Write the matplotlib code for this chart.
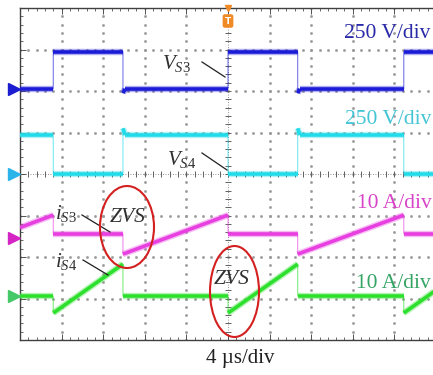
import numpy as np
import matplotlib.pyplot as plt
from matplotlib.patches import Ellipse
from matplotlib.collections import LineCollection

plt.rcParams['font.family'] = ['Liberation Serif', 'DejaVu Serif']
plt.rcParams['mathtext.fontset'] = 'custom'
plt.rcParams['mathtext.it'] = 'Liberation Serif:italic'
plt.rcParams['mathtext.rm'] = 'Liberation Serif'

# scope settings
T_DIV = 4.0            # us/div
V_DIV = 250.0          # V/div
I_DIV = 10.0           # A/div
N_XDIV, N_YDIV = 10, 8

# channel ground levels (div from bottom)
ref_vs3, ref_vs4, ref_is3, ref_is4 = 6.05, 4.0, 2.46, 1.06

# waveforms: time (us) and value breakpoints
vs3_t = [0, 3.2, 3.2, 9.9, 9.9, 10.1, 20.0, 20.0, 26.7, 26.7, 26.9, 36.9, 36.9, 40]
vs3_v = [0, 0, 225, 225, -25, 0, 0, 225, 225, -25, 0, 0, 225, 225]

vs4_t = [0, 3.2, 3.2, 9.9, 9.9, 10.1, 20.0, 20.0, 26.7, 26.7, 26.9, 36.9, 36.9, 40]
vs4_v = [235, 235, 0, 0, 275, 235, 235, 0, 0, 275, 235, 235, 0, 0]

is3_t = [0, 3.2, 3.2, 9.9, 9.9, 20.0, 20.0, 26.7, 26.7, 36.9, 36.9, 40]
is3_i = [2.5, 5.5, 1.0, 1.0, -3.9, 5.5, 1.0, 1.0, -3.9, 5.5, 1.0, 1.0]

is4_t = [0, 3.2, 3.2, 9.9, 9.9, 20.0, 20.0, 26.7, 26.7, 36.9, 36.9, 40]
is4_i = [0, 0, -4.1, 7.7, 0, 0, -4.1, 7.7, 0, 0, -4.1, 1.4]

scale_labels = ['250 V/div', '250 V/div', '10 A/div', '10 A/div']
time_label = '4 \u00b5s/div'

W, H = 433, 375
fig = plt.figure(figsize=(W / 100, H / 100), dpi=100)
ax = fig.add_axes([20 / W, 35 / H, 416 / W, 332 / H])
ax.set_xlim(0, N_XDIV * T_DIV)
ax.set_ylim(0, N_YDIV)


def X(px):
    return (px - 20) / 41.6 * T_DIV


def Y(py):
    return (340 - py) / 41.5


# graticule
grid_c = '#9a9a9a'
ys = np.arange(0, N_YDIV + 0.01, 0.2)
xs = np.arange(0, N_XDIV * T_DIV + 0.01, 0.2 * T_DIV)
for k in range(1, N_XDIV):
    if k == 5:
        continue
    ax.plot(np.full_like(ys, k * T_DIV), ys, ls='none', marker='s', ms=0.9,
            color=grid_c, zorder=1)
for k in range(1, N_YDIV):
    if k == 4:
        continue
    ax.plot(xs, np.full_like(xs, k), ls='none', marker='s', ms=0.9,
            color=grid_c, zorder=1)

# centre axes with minor ticks
ax.axvline(20, color='#707070', lw=0.6, ls=(0, (1, 2)), zorder=1)
ax.axhline(4, color='#707070', lw=0.6, ls=(0, (1, 2)), zorder=1)
ax.plot(xs, np.full_like(xs, 4), ls='none', marker='|', ms=4, mew=0.7,
        color='#606060', zorder=1)
ax.plot(np.full_like(ys, 20), ys, ls='none', marker='_', ms=4, mew=0.7,
        color='#606060', zorder=1)

# frame
for s in ['left', 'top', 'bottom']:
    ax.spines[s].set_color('#404040')
    ax.spines[s].set_linewidth(1.0)
ax.spines['right'].set_visible(False)
ax.set_xticks(np.arange(0, 41, T_DIV))
ax.set_yticks(np.arange(0, N_YDIV + 1))
ax.set_xticks(xs, minor=True)
ax.set_yticks(ys, minor=True)
ax.tick_params(which='both', direction='in', top=True, bottom=True, left=True,
               right=False, labelbottom=False, labelleft=False, color='#505050')
ax.tick_params(which='major', length=4, width=0.7)
ax.tick_params(which='minor', length=2.5, width=0.6)


def trace(t, v, ref, scale, color):
    t = np.asarray(t, float)
    y = ref + np.asarray(v, float) / scale
    # thin edges everywhere, thick band on the non-vertical parts
    ax.plot(t, y, color=color, lw=0.8, alpha=0.6, zorder=3)
    segs = [[(t[i], y[i]), (t[i + 1], y[i + 1])]
            for i in range(len(t) - 1) if t[i + 1] > t[i]]
    ax.add_collection(LineCollection(segs, colors=color, linewidths=4.6,
                                     alpha=0.35, capstyle='butt', zorder=3))
    ax.add_collection(LineCollection(segs, colors=color, linewidths=2.6,
                                     capstyle='butt', zorder=4))


trace(vs3_t, vs3_v, ref_vs3, V_DIV, '#1c1cd8')
trace(vs4_t, vs4_v, ref_vs4, V_DIV, '#22dbe8')
trace(is3_t, is3_i, ref_is3, I_DIV, '#e840e0')
trace(is4_t, is4_i, ref_is4, I_DIV, '#2ee02e')

# ground markers
for ref, c in [(ref_vs3, '#1c1cd0'), (ref_vs4, '#2ab4ea'),
               (ref_is3, '#d424c4'), (ref_is4, '#44c868')]:
    ax.plot(-0.55, ref, marker='>', ms=8.5, color=c, clip_on=False, zorder=5)

# trigger marker
ax.plot(20, 8, marker='v', ms=5, color='#f08a24', clip_on=False, zorder=6)
ax.text(20, Y(21), 'T', color='white', fontsize=6.5, fontweight='bold',
        family='DejaVu Sans', ha='center', va='center', zorder=6,
        bbox=dict(boxstyle='round,pad=0.25', fc='#f08a24', ec='none'))

# scale labels
lab_fs = 15.5
ax.text(X(344), Y(34), scale_labels[0], color='#2a2aa8', fontsize=lab_fs,
        ha='left', va='center')
ax.text(X(345), Y(120), scale_labels[1], color='#44c4d4', fontsize=lab_fs,
        ha='left', va='center')
ax.text(X(357), Y(203), scale_labels[2], color='#d844c8', fontsize=lab_fs,
        ha='left', va='center')
ax.text(X(356), Y(283), scale_labels[3], color='#34a464', fontsize=lab_fs,
        ha='left', va='center')

# signal names with leader lines
names = [(r'$V_{S3}$', 162, 63, (202, 62), (225, 77)),
         (r'$V_{S4}$', 167, 160, (202, 153), (227, 170)),
         (r'$i_{S3}$', 55, 213, (82, 215), (110, 232)),
         (r'$i_{S4}$', 55, 261, (83, 260), (108, 275))]
for txt, px, py, p0, p1 in names:
    ax.text(X(px), Y(py), txt, color='#303030', fontsize=15, ha='left',
            va='center', zorder=7)
    ax.plot([X(p0[0]), X(p1[0])], [Y(p0[1]), Y(p1[1])], color='#202020',
            lw=0.9, zorder=7)

# ZVS annotations
for cx, cy, w, h, tx, ty in [(127, 227, 54, 82, 128, 217),
                             (234.5, 291.5, 49, 91, 232, 280)]:
    ax.add_patch(Ellipse((X(cx), Y(cy)), w / 41.6 * T_DIV, h / 41.5,
                         fill=False, ec='#d42020', lw=1.5, zorder=8,
                         clip_on=False))
    ax.text(X(tx), Y(ty), 'ZVS', style='italic', color='#303030',
            fontsize=15.5, ha='center', va='center', zorder=8)

fig.text(240 / W, 1 - 359 / H, time_label, fontsize=15, ha='center',
         va='center', color='#202020')

fig.savefig('out.png', dpi=100)
